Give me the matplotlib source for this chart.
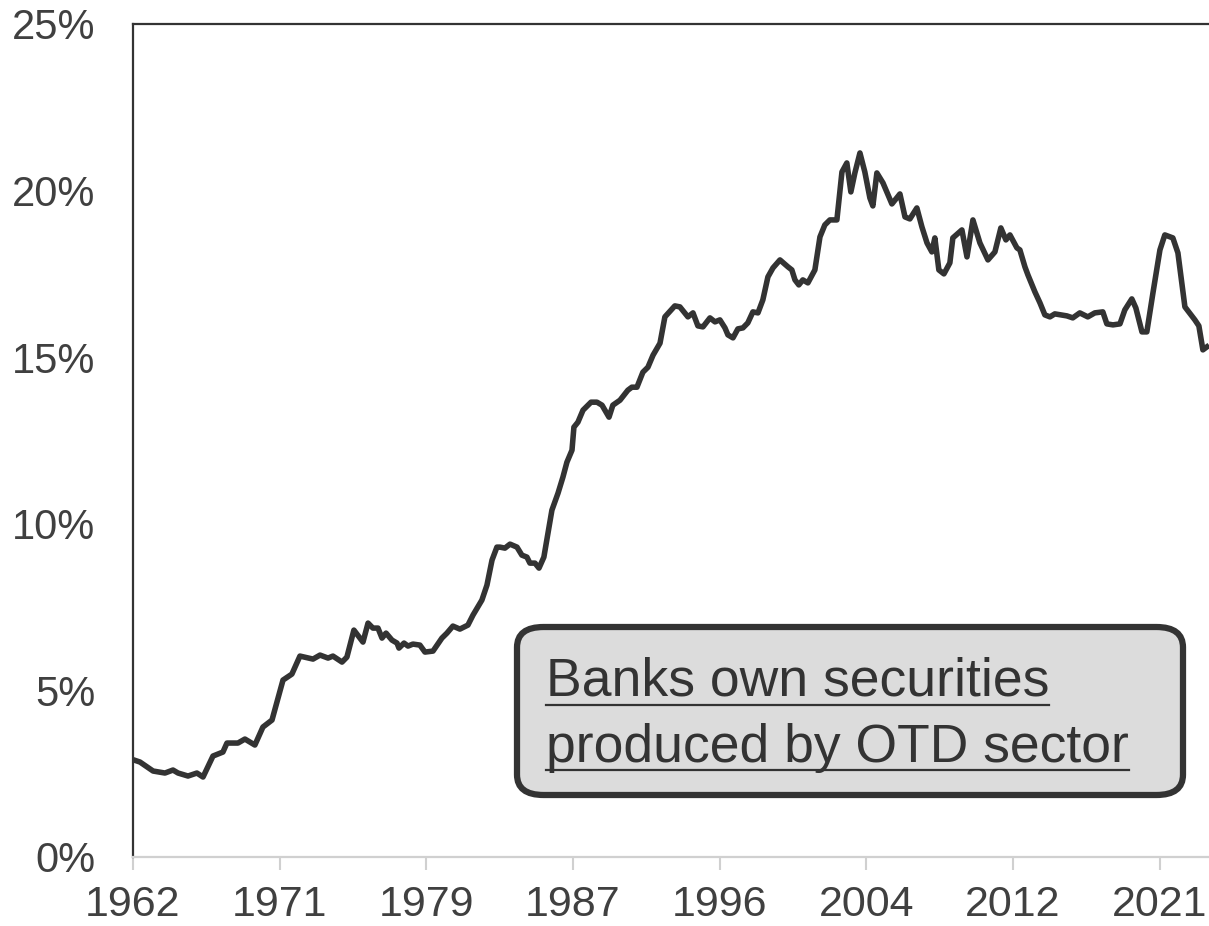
import matplotlib
matplotlib.use("Agg")
import matplotlib.pyplot as plt
from matplotlib.patches import FancyBboxPatch
from matplotlib.lines import Line2D

# share of securities held by banks, quarterly-ish
years = [1962.06, 1962.40, 1963.15, 1963.83, 1964.29, 1964.58, 1965.15, 1965.66, 1966.01,
         1966.58, 1967.15, 1967.38, 1968.01, 1968.41, 1968.98, 1969.44, 1969.96, 1970.59,
         1971.10, 1971.56, 1972.31, 1972.71, 1973.17, 1973.45, 1973.97, 1974.25, 1974.65,
         1975.17, 1975.46, 1975.74, 1976.03, 1976.26, 1976.49, 1976.83, 1977.12, 1977.23,
         1977.52, 1977.75, 1978.03, 1978.43, 1978.72, 1979.18, 1979.69, 1979.98, 1980.32,
         1980.72, 1981.18, 1981.47, 1981.98, 1982.27, 1982.56, 1982.84, 1983.01, 1983.30,
         1983.59, 1983.99, 1984.27, 1984.56, 1984.73, 1985.02, 1985.25, 1985.53, 1985.99,
         1986.34, 1986.62, 1986.85, 1987.14, 1987.25, 1987.48, 1987.77, 1988.23, 1988.57,
         1988.86, 1989.26, 1989.48, 1989.89, 1990.34, 1990.57, 1990.86, 1991.20, 1991.49,
         1991.78, 1992.18, 1992.46, 1993.03, 1993.32, 1993.78, 1994.07, 1994.35, 1994.64,
         1995.04, 1995.33, 1995.61, 1995.90, 1996.07, 1996.36, 1996.64, 1996.93, 1997.21,
         1997.50, 1997.79, 1998.07, 1998.36, 1998.65, 1999.05, 1999.51, 1999.73, 1999.91,
         2000.13, 2000.36, 2000.65, 2001.05, 2001.34, 2001.62, 2001.91, 2002.31, 2002.60,
         2002.88, 2003.11, 2003.34, 2003.63, 2003.91, 2004.20, 2004.37, 2004.60, 2004.95,
         2005.46, 2005.92, 2006.21, 2006.49, 2006.89, 2007.18, 2007.47, 2007.75, 2007.92,
         2008.15, 2008.44, 2008.78, 2008.95, 2009.47, 2009.76, 2010.10, 2010.50, 2010.96,
         2011.36, 2011.70, 2011.99, 2012.22, 2012.62, 2012.79, 2013.08, 2013.25, 2013.65,
         2013.94, 2014.22, 2014.51, 2014.79, 2015.48, 2015.82, 2016.22, 2016.68, 2017.08,
         2017.54, 2017.77, 2018.12, 2018.52, 2018.80, 2019.20, 2019.43, 2019.78, 2020.06,
         2020.41, 2020.81, 2021.09, 2021.55, 2021.84, 2022.24, 2022.81, 2023.04, 2023.27,
         2023.50]
share = [2.91, 2.85, 2.58, 2.52, 2.61, 2.52, 2.43, 2.52, 2.40,
         3.03, 3.15, 3.42, 3.42, 3.54, 3.36, 3.90, 4.11, 5.31,
         5.49, 6.03, 5.94, 6.06, 5.97, 6.03, 5.85, 6.00, 6.81,
         6.45, 7.02, 6.87, 6.87, 6.57, 6.72, 6.51, 6.42, 6.27,
         6.42, 6.33, 6.39, 6.36, 6.15, 6.18, 6.57, 6.72, 6.93,
         6.84, 6.96, 7.26, 7.71, 8.16, 8.91, 9.30, 9.30, 9.27,
         9.39, 9.30, 9.06, 9.00, 8.82, 8.82, 8.67, 9.00, 10.41,
         10.92, 11.40, 11.85, 12.21, 12.90, 13.05, 13.41, 13.65, 13.65,
         13.56, 13.20, 13.56, 13.71, 14.01, 14.10, 14.10, 14.55, 14.70,
         15.06, 15.42, 16.21, 16.54, 16.51, 16.21, 16.33, 15.94, 15.91,
         16.18, 16.06, 16.12, 15.88, 15.67, 15.58, 15.85, 15.88, 16.03,
         16.36, 16.33, 16.72, 17.41, 17.68, 17.92, 17.71, 17.62, 17.32,
         17.17, 17.32, 17.23, 17.62, 18.61, 18.97, 19.12, 19.12, 20.56,
         20.83, 19.96, 20.53, 21.13, 20.56, 19.78, 19.54, 20.53, 20.23,
         19.60, 19.90, 19.21, 19.15, 19.48, 18.91, 18.43, 18.16, 18.58,
         17.62, 17.50, 17.83, 18.58, 18.82, 18.01, 19.12, 18.43, 17.92,
         18.16, 18.88, 18.52, 18.67, 18.28, 18.22, 17.71, 17.47, 16.96,
         16.63, 16.27, 16.21, 16.30, 16.24, 16.18, 16.33, 16.21, 16.33,
         16.36, 16.00, 15.97, 16.00, 16.42, 16.75, 16.48, 15.76, 15.76,
         16.93, 18.22, 18.67, 18.58, 18.13, 16.51, 16.12, 15.94, 15.22,
         15.31]

tick_labels = ["1962", "1971", "1979", "1987", "1996", "2004", "2012", "2021"]
tick_step = 8.4
y_ticks = [0, 5, 10, 15, 20, 25]

plt.rcParams["font.family"] = ["Liberation Sans", "DejaVu Sans"]
txt_col = "#404040"

fig = plt.figure(figsize=(12.09, 9.26), dpi=100)
ax = fig.add_axes([133 / 1209, 69 / 926, 1 - 133 / 1209, 833 / 926])

ax.plot(years, share, color="#333333", lw=4.0, solid_joinstyle="round")

ax.set_xlim(1962, 2023.62)
ax.set_ylim(0, 25)
ax.set_xticks([1962 + tick_step * i for i in range(len(tick_labels))])
ax.set_xticklabels(tick_labels)
ax.set_yticks(y_ticks)
ax.set_yticklabels([f"{v}%" for v in y_ticks])

ax.tick_params(axis="x", length=9, width=1.5, color="#d0d0d0", pad=11,
               labelsize=31, labelcolor=txt_col)
ax.tick_params(axis="y", length=0, pad=27, labelsize=30, labelcolor=txt_col)

for s in ["left", "top"]:
    ax.spines[s].set_color("#333333")
    ax.spines[s].set_linewidth(1.6)
ax.spines["bottom"].set_color("#d0d0d0")
ax.spines["bottom"].set_linewidth(1.6)
ax.spines["right"].set_visible(False)

# annotation box
box = FancyBboxPatch((517 / 1209, 131 / 926), 666 / 1209, 168 / 926,
                     boxstyle="round,pad=0,rounding_size=0.022",
                     transform=fig.transFigure, facecolor="#dcdcdc",
                     edgecolor="#333333", lw=4.5, zorder=5)
fig.patches.append(box)

lines = ["Banks own securities", "produced by OTD sector"]
base_y = [231 / 926, 164 / 926]
ul_y = [221 / 926, 156 / 926]
fig.canvas.draw()
r = fig.canvas.get_renderer()
for t, by, uy in zip(lines, base_y, ul_y):
    tx = fig.text(546 / 1209, by, t, fontsize=38.5, color="#333333",
                  va="baseline", ha="left", zorder=6)
    bb = tx.get_window_extent(renderer=r)
    x0, x1 = bb.x0 / fig.bbox.width, bb.x1 / fig.bbox.width
    fig.add_artist(Line2D([x0, x1], [uy, uy], color="#333333", lw=1.6,
                          transform=fig.transFigure, zorder=6))

fig.savefig("out.png", dpi=100)
